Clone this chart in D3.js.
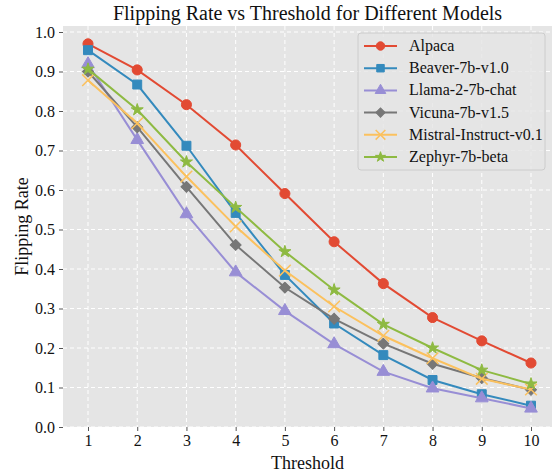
<!DOCTYPE html>
<html><head><meta charset="utf-8">
<script src="https://cdn.jsdelivr.net/npm/d3@7"></script>
<style>body{margin:0;background:#fff}svg{display:block}</style>
</head><body>
<script>
const thresholds = [1,2,3,4,5,6,7,8,9,10];
const alpaca  = [0.970,0.904,0.816,0.714,0.591,0.469,0.363,0.277,0.218,0.162];
const beaver  = [0.954,0.867,0.712,0.542,0.385,0.262,0.182,0.119,0.083,0.054];
const llama   = [0.919,0.727,0.539,0.392,0.294,0.210,0.140,0.098,0.073,0.047];
const vicuna  = [0.900,0.759,0.608,0.461,0.353,0.274,0.211,0.160,0.124,0.094];
const mistral = [0.878,0.769,0.634,0.508,0.396,0.305,0.231,0.174,0.122,0.095];
const zephyr  = [0.906,0.803,0.671,0.556,0.444,0.347,0.260,0.200,0.144,0.109];
const seriesNames = ["Alpaca","Beaver-7b-v1.0","Llama-2-7b-chat","Vicuna-7b-v1.5","Mistral-Instruct-v0.1","Zephyr-7b-beta"];
const seriesValues = [alpaca,beaver,llama,vicuna,mistral,zephyr];
const colors = ["#E24A33","#348ABD","#988ED5","#777777","#FBC15E","#8EBA42"];
const markers = ["circle","square","triangle","diamond","x","star"];
const yTicks = [0,0.1,0.2,0.3,0.4,0.5,0.6,0.7,0.8,0.9,1.0];

const W=552,H=475;
const L=63,R=552,T=26,B=427;
const svg=d3.select("body").append("svg").attr("width",W).attr("height",H)
  .style("font-family","'Liberation Serif','DejaVu Serif',serif");
const x=d3.scaleLinear().domain([1,10]).range([88,531]);
const y=d3.scaleLinear().domain([0,1]).range([B,32]);

svg.append("rect").attr("x",L).attr("y",T).attr("width",R-L).attr("height",B-T).attr("fill","#E5E5E5");

// grid
svg.append("g").selectAll("line").data(thresholds).join("line")
  .attr("x1",d=>x(d)).attr("x2",d=>x(d)).attr("y1",T).attr("y2",B)
  .attr("stroke","#fff").attr("stroke-width",1).attr("stroke-dasharray","4,3");
svg.append("g").selectAll("line").data(yTicks).join("line")
  .attr("x1",L).attr("x2",R).attr("y1",d=>y(d)).attr("y2",d=>y(d))
  .attr("stroke","#fff").attr("stroke-width",1).attr("stroke-dasharray","4,3");

// axes
const xAxis=d3.axisBottom(x).tickValues(thresholds).tickSize(4).tickPadding(4).tickFormat(d3.format("d"));
const gx=svg.append("g").attr("transform",`translate(0,${B})`).call(xAxis);
const yAxis=d3.axisLeft(y).tickValues(yTicks).tickSize(4).tickPadding(4).tickFormat(d3.format(".1f"));
const gy=svg.append("g").attr("transform",`translate(${L},0)`).call(yAxis);
[gx,gy].forEach(g=>{
  g.select(".domain").remove();
  g.selectAll(".tick line").attr("stroke","#555");
  g.selectAll(".tick text").attr("fill","#111").style("font-size","16px").style("font-family","'Liberation Serif',serif");
});

// title & labels
svg.append("text").attr("x",(L+R)/2).attr("y",20).attr("text-anchor","middle")
  .style("font-size","20px").attr("fill","#111").text("Flipping Rate vs Threshold for Different Models");
svg.append("text").attr("x",(L+R)/2).attr("y",469).attr("text-anchor","middle")
  .style("font-size","18px").attr("fill","#111").text("Threshold");
svg.append("text").attr("transform",`translate(28,${(T+B)/2}) rotate(-90)`).attr("text-anchor","middle")
  .style("font-size","18px").attr("fill","#111").text("Flipping Rate");

const symTypes={circle:d3.symbolCircle,square:d3.symbolSquare,triangle:d3.symbolTriangle,diamond:d3.symbolSquare,x:d3.symbolX,star:d3.symbolStar};
const symSizes={circle:80,square:80,triangle:70,diamond:60,x:90,star:45};
function drawMarker(g,m,color,tx,ty,scale){
  const p=d3.symbol().type(symTypes[m]).size(symSizes[m]*scale)();
  g.append("path").attr("d",p)
    .attr("transform",`translate(${tx},${ty})`+(m==="diamond"?" rotate(45)":""))
    .attr("fill",m==="x"?"none":color)
    .attr("stroke",color).attr("stroke-width",m==="x"?1.5:1);
}

const line=d3.line().x((d,i)=>x(thresholds[i])).y(d=>y(d));
seriesValues.forEach((vals,k)=>{
  const g=svg.append("g");
  g.append("path").attr("d",line(vals)).attr("fill","none").attr("stroke",colors[k]).attr("stroke-width",2);
  vals.forEach((v,i)=>drawMarker(g,markers[k],colors[k],x(thresholds[i]),y(v),1));
});

// legend
const lg=svg.append("g");
lg.append("rect").attr("x",358).attr("y",33).attr("width",187).attr("height",137).attr("rx",3)
  .attr("fill","#E5E5E5").attr("fill-opacity",0.8).attr("stroke","#CCCCCC").attr("stroke-width",1);
seriesNames.forEach((n,k)=>{
  const yy=46+k*22.2;
  lg.append("line").attr("x1",364).attr("x2",397).attr("y1",yy).attr("y2",yy).attr("stroke",colors[k]).attr("stroke-width",2);
  drawMarker(lg,markers[k],colors[k],380.5,yy,0.7);
  lg.append("text").attr("x",409).attr("y",yy+5).style("font-size","16px").attr("fill","#111").text(n);
});
</script>
</body></html>
